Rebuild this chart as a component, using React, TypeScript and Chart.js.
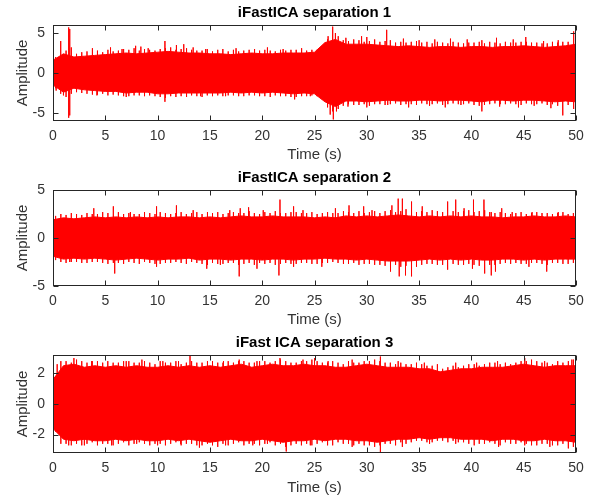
import React, { useEffect, useRef } from "react";
import { Chart, registerables } from "chart.js";

Chart.register(...registerables);

// ---------------- data ----------------
const times = [0,1,2,3,4,5,6,7,8,9,10,11,12,13,14,15,16,17,18,19,20,21,22,23,24,25,26,27,28,29,30,31,32,33,34,35,36,37,38,39,40,41,42,43,44,45,46,47,48,49,50];
const minorTimes = [0.25,0.75,1.25,1.75,2.25,2.75,3.25,3.75,4.25,4.75,5.25,5.75,6.25,6.75,7.25,7.75,8.25,8.75,9.25,9.75,10.25,10.75,11.25,11.75,12.25,12.75,13.25,13.75,14.25,14.75,15.25,15.75,16.25,16.75,17.25,17.75,18.25,18.75,19.25,19.75,20.25,20.75,21.25,21.75,22.25,22.75,23.25,23.75,24.25,24.75,25.25,25.75,26.25,26.75,27.25,27.75,28.25,28.75,29.25,29.75,30.25,30.75,31.25,31.75,32.25,32.75,33.25,33.75,34.25,34.75,35.25,35.75,36.25,36.75,37.25,37.75,38.25,38.75,39.25,39.75,40.25,40.75,41.25,41.75,42.25,42.75,43.25,43.75,44.25,44.75,45.25,45.75,46.25,46.75,47.25,47.75,48.25,48.75,49.25,49.75];
const xTicks = [0,5,10,15,20,25,30,35,40,45,50];

const titles = ["iFastICA separation 1", "iFastICA separation 2", "iFast ICA separation 3"];

// Separation 1: envelope of the dense signal (upper / lower), 1 s steps
const upper1 = [1.6,2.4,2.0,2.1,2.2,2.3,2.4,2.5,2.4,2.5,2.6,2.7,2.6,2.5,2.5,2.4,2.4,2.3,2.4,2.5,2.4,2.4,2.5,2.5,2.5,2.6,3.8,4.2,3.6,3.6,3.6,3.5,3.4,3.3,3.4,3.3,3.2,3.3,3.3,3.2,3.3,3.3,3.2,3.3,3.3,3.4,3.3,3.2,3.3,3.4,3.6];
const lower1 = [-1.5,-2.4,-1.9,-2.1,-2.2,-2.3,-2.3,-2.5,-2.4,-2.4,-2.6,-2.6,-2.5,-2.5,-2.5,-2.5,-2.5,-2.4,-2.5,-2.4,-2.5,-2.4,-2.5,-2.6,-2.5,-2.6,-3.6,-4.2,-3.5,-3.5,-3.6,-3.5,-3.4,-3.5,-3.5,-3.4,-3.4,-3.5,-3.4,-3.4,-3.5,-3.6,-3.4,-3.4,-3.5,-3.4,-3.4,-3.5,-3.6,-3.5,-3.6];
const spikeTopT1 = [0.7,1.5,1.6,3.8,5.5,6.6,7.9,8.4,9.1,10.7,11.8,12.5,13.4,14.6,16.2,17.5,19.3,20.5,22.0,23.8,26.3,26.7,27.0,27.3,28.0,29.5,30.0,31.9,33.5,35.0,36.5,38.0,39.6,41.0,42.4,44.0,45.2,46.9,48.3,49.8];
const spikeTopV1 = [4.0,5.7,5.5,3.1,3.2,3.0,3.4,3.3,3.1,4.0,3.5,3.6,3.2,3.0,3.0,3.1,3.0,3.2,3.0,3.1,4.6,5.8,5.0,4.5,4.4,4.6,4.5,5.4,4.3,4.1,4.2,4.3,4.2,4.1,4.4,4.2,4.5,4.0,4.1,5.2];
const spikeBotT1 = [0.3,1.0,1.5,1.6,4.2,7.0,9.2,10.7,12.8,14.1,16.5,18.2,20.8,23.1,24.6,26.5,26.8,27.1,28.2,30.0,32.0,34.0,36.0,37.5,39.0,41.0,42.7,44.5,46.0,47.6,48.7,49.8];
const spikeBotV1 = [-2.2,-2.8,-5.6,-5.3,-2.8,-3.0,-2.8,-3.6,-3.0,-2.9,-2.9,-2.9,-3.0,-3.3,-2.9,-5.2,-5.8,-4.8,-4.2,-4.3,-4.0,-4.3,-4.1,-4.3,-4.0,-4.8,-4.2,-4.3,-4.1,-4.4,-5.3,-4.5];
const minorTop1 = [2.0,2.9,2.8,3.2,2.4,2.6,2.7,2.5,2.8,2.6,2.9,2.7,2.8,3.0,2.9,3.1,2.8,3.0,2.9,2.8,3.0,3.1,3.2,2.9,3.0,3.1,2.9,2.8,2.8,3.0,2.7,2.9,2.8,2.7,2.9,2.7,2.8,2.9,2.7,2.8,2.9,2.8,2.7,2.9,2.8,2.9,2.9,2.8,2.8,2.9,2.9,3.2,4.2,4.8,4.6,4.1,4.0,4.2,4.1,3.9,4.0,4.2,3.9,4.0,4.1,3.8,3.9,3.8,3.9,4.0,3.8,3.9,3.7,3.9,3.8,3.7,3.9,3.8,3.7,3.8,3.8,3.9,3.7,3.9,3.8,3.7,3.9,3.8,3.8,3.9,3.9,3.8,3.8,3.7,3.7,3.9,3.8,3.9,3.9,4.0];
const minorBot1 = [-1.9,-2.6,-3.0,-2.6,-2.4,-2.5,-2.6,-2.7,-2.7,-2.6,-2.8,-2.7,-2.8,-2.9,-2.9,-2.8,-2.8,-2.9,-2.8,-2.9,-3.0,-3.1,-2.9,-3.0,-2.9,-3.0,-2.8,-2.9,-3.0,-2.8,-2.9,-2.8,-2.9,-2.8,-2.8,-2.9,-2.9,-2.8,-2.8,-2.9,-2.9,-2.8,-2.8,-2.9,-2.9,-3.0,-3.0,-2.9,-2.9,-2.8,-2.9,-3.3,-4.3,-4.8,-4.5,-4.1,-3.9,-4.0,-4.0,-3.9,-4.1,-3.9,-3.9,-4.0,-3.9,-3.8,-4.0,-3.9,-3.9,-4.0,-3.8,-3.9,-3.9,-3.8,-4.0,-3.9,-3.8,-3.9,-3.9,-3.8,-4.0,-4.1,-4.0,-3.9,-3.8,-3.9,-3.9,-3.8,-3.9,-4.0,-3.8,-3.9,-3.9,-3.8,-4.0,-3.9,-4.1,-3.9,-4.0,-4.1];

// Separation 2
const upper2 = [1.9,2.1,2.0,2.1,2.2,2.1,2.2,2.1,2.2,2.1,2.2,2.1,2.2,2.2,2.1,2.2,2.1,2.2,2.3,2.2,2.2,2.3,2.2,2.2,2.2,2.1,2.2,2.1,2.3,2.2,2.3,2.2,2.3,2.4,2.3,2.2,2.3,2.2,2.3,2.2,2.3,2.2,2.2,2.1,2.2,2.2,2.3,2.2,2.2,2.3,2.2];
const lower2 = [-1.9,-2.2,-2.1,-2.2,-2.1,-2.2,-2.3,-2.2,-2.1,-2.2,-2.3,-2.2,-2.2,-2.1,-2.3,-2.2,-2.2,-2.3,-2.2,-2.2,-2.3,-2.2,-2.2,-2.3,-2.2,-2.2,-2.1,-2.2,-2.2,-2.3,-2.2,-2.3,-2.4,-2.4,-2.4,-2.3,-2.2,-2.3,-2.2,-2.3,-2.2,-2.3,-2.3,-2.2,-2.2,-2.3,-2.2,-2.3,-2.2,-2.2,-2.2];
const spikeTopT2 = [3.9,5.8,7.4,9.9,11.8,13.4,14.8,16.9,17.9,18.7,20.1,21.7,23.0,23.9,27.0,28.3,29.7,30.5,32.4,33.0,33.4,34.3,35.3,37.7,38.5,39.3,40.2,41.2,41.9,42.9,43.9,45.8,48.3];
const spikeTopV2 = [3.1,3.3,2.7,3.3,3.4,2.9,2.7,2.9,3.1,3.2,2.9,4.0,3.3,2.9,3.1,3.4,3.3,2.9,3.4,4.1,4.1,3.8,3.3,3.8,4.0,3.1,4.0,4.0,2.7,3.1,2.7,2.7,2.7];
const spikeBotT2 = [1.6,5.9,9.9,14.7,16.0,17.8,19.5,21.6,23.0,25.7,27.8,32.3,33.1,33.7,34.3,37.7,40.1,41.3,41.9,42.3,45.5,47.2];
const spikeBotV2 = [-2.5,-3.7,-3.0,-3.2,-2.8,-4.0,-3.2,-3.9,-3.0,-3.0,-2.6,-3.5,-4.0,-3.9,-4.0,-3.3,-3.2,-3.7,-3.9,-3.5,-3.0,-3.5];
const minorTop2 = [2.3,2.5,2.4,2.6,2.5,2.4,2.6,2.5,2.5,2.7,2.6,2.5,2.7,2.5,2.6,2.5,2.5,2.7,2.6,2.5,2.7,2.6,2.5,2.6,2.7,2.5,2.6,2.7,2.5,2.6,2.6,2.7,2.5,2.6,2.7,2.6,2.6,2.8,2.6,2.5,2.7,2.6,2.8,2.6,2.6,2.7,2.7,2.6,2.6,2.7,2.5,2.6,2.7,2.6,2.6,2.8,2.7,2.6,2.8,2.6,2.7,2.8,2.6,2.8,2.9,2.7,2.8,3.0,2.9,2.7,2.8,2.7,2.9,2.8,2.7,2.9,2.8,2.7,2.8,2.9,2.7,2.8,2.9,2.7,2.6,2.7,2.6,2.5,2.6,2.7,2.5,2.6,2.7,2.6,2.6,2.5,2.6,2.7,2.5,2.6];
const minorBot2 = [-2.3,-2.5,-2.6,-2.5,-2.5,-2.6,-2.6,-2.5,-2.5,-2.6,-2.7,-2.6,-2.6,-2.7,-2.5,-2.6,-2.7,-2.5,-2.6,-2.7,-2.7,-2.6,-2.6,-2.5,-2.6,-2.7,-2.5,-2.6,-2.7,-2.8,-2.6,-2.7,-2.7,-2.6,-2.6,-2.8,-2.7,-2.6,-2.8,-2.6,-2.7,-2.6,-2.8,-2.7,-2.6,-2.7,-2.7,-2.6,-2.6,-2.7,-2.7,-2.6,-2.6,-2.5,-2.6,-2.7,-2.7,-2.6,-2.8,-2.7,-2.7,-2.8,-2.8,-2.9,-2.9,-2.8,-3.0,-2.9,-2.9,-3.0,-2.8,-2.7,-2.7,-2.8,-2.8,-2.7,-2.7,-2.8,-2.8,-2.7,-2.8,-2.9,-2.9,-2.8,-2.8,-2.7,-2.6,-2.7,-2.6,-2.7,-2.7,-2.6,-2.6,-2.7,-2.8,-2.6,-2.6,-2.7,-2.7,-2.6];

// Separation 3
const upper3 = [1.6,2.5,2.6,2.4,2.5,2.4,2.5,2.4,2.5,2.4,2.4,2.5,2.4,2.5,2.4,2.5,2.4,2.5,2.6,2.4,2.5,2.6,2.5,2.5,2.6,2.5,2.5,2.4,2.4,2.5,2.6,2.5,2.4,2.4,2.4,2.3,2.3,2.1,2.2,2.3,2.3,2.4,2.4,2.4,2.5,2.6,2.5,2.4,2.5,2.5,2.5];
const lower3 = [-1.6,-2.3,-2.4,-2.3,-2.4,-2.4,-2.3,-2.4,-2.3,-2.4,-2.4,-2.3,-2.4,-2.3,-2.4,-2.5,-2.4,-2.3,-2.4,-2.4,-2.3,-2.4,-2.5,-2.4,-2.4,-2.3,-2.4,-2.3,-2.3,-2.4,-2.4,-2.5,-2.4,-2.3,-2.3,-2.2,-2.3,-2.2,-2.2,-2.3,-2.3,-2.3,-2.4,-2.3,-2.3,-2.4,-2.4,-2.3,-2.4,-2.4,-2.5];
const spikeTopT3 = [0.4,2.0,3.7,5.2,7.0,8.5,10.5,12.0,13.1,14.8,16.3,17.8,19.5,21.7,23.9,25.0,26.3,28.6,31.3,33.0,35.5,38.5,40.5,42.5,45.1,47.0,49.6];
const spikeTopV3 = [2.6,3.0,2.8,2.8,2.8,2.9,2.8,2.8,3.2,2.8,2.8,2.9,2.8,3.0,2.9,3.0,2.8,2.9,3.1,2.8,2.7,2.7,2.7,2.8,3.0,2.8,2.9];
const spikeBotT3 = [1.5,3.0,5.6,8.0,10.0,12.2,14.0,16.5,19.1,20.5,22.3,24.6,26.7,28.6,31.3,33.4,36.0,38.5,40.3,42.6,45.1,47.5,49.3];
const spikeBotV3 = [-2.7,-2.7,-2.7,-2.6,-2.7,-2.6,-2.85,-2.7,-2.7,-2.6,-3.1,-2.7,-2.7,-2.8,-3.2,-2.8,-2.6,-2.6,-2.7,-2.8,-2.7,-2.8,-2.9];
const minorTop3 = [1.8,2.8,2.8,2.7,2.9,2.8,2.7,2.8,2.8,2.7,2.8,2.7,2.7,2.8,2.8,2.7,2.7,2.8,2.7,2.6,2.8,2.7,2.7,2.8,2.6,2.7,2.8,2.7,2.7,2.6,2.8,2.7,2.7,2.8,2.7,2.8,2.8,2.7,2.7,2.8,2.8,2.7,2.8,2.9,2.8,2.7,2.7,2.8,2.8,2.9,2.8,2.7,2.7,2.8,2.7,2.6,2.8,2.7,2.7,2.8,2.8,2.9,2.8,2.7,2.7,2.6,2.7,2.6,2.6,2.7,2.6,2.5,2.5,2.6,2.3,2.4,2.5,2.4,2.5,2.6,2.6,2.5,2.6,2.7,2.7,2.6,2.7,2.6,2.7,2.8,2.8,2.9,2.8,2.7,2.7,2.6,2.8,2.7,2.8,2.9];
const minorBot3 = [-1.8,-2.6,-2.6,-2.7,-2.6,-2.7,-2.6,-2.5,-2.7,-2.6,-2.6,-2.7,-2.6,-2.5,-2.7,-2.6,-2.5,-2.6,-2.7,-2.6,-2.6,-2.7,-2.6,-2.5,-2.7,-2.6,-2.6,-2.7,-2.7,-2.6,-2.7,-2.8,-2.6,-2.7,-2.6,-2.5,-2.7,-2.6,-2.6,-2.7,-2.6,-2.5,-2.7,-2.6,-2.8,-2.7,-2.6,-2.7,-2.6,-2.7,-2.6,-2.5,-2.7,-2.6,-2.5,-2.6,-2.6,-2.7,-2.6,-2.7,-2.7,-2.8,-2.7,-2.6,-2.6,-2.7,-2.5,-2.6,-2.5,-2.4,-2.4,-2.5,-2.5,-2.4,-2.4,-2.5,-2.4,-2.5,-2.5,-2.6,-2.5,-2.6,-2.6,-2.5,-2.6,-2.7,-2.5,-2.6,-2.6,-2.5,-2.6,-2.7,-2.7,-2.6,-2.6,-2.7,-2.7,-2.6,-2.7,-2.8];

const yRange1 = [-6, 6];
const yRange2 = [-5, 5];
const yRange3 = [-3.2, 3.2];
const yTicks1 = [-5, 0, 5];
const yTicks2 = [-5, 0, 5];
const yTicks3 = [-2, 0, 2];

// ---------------- styling ----------------
const RED = "#ff0000";
const TEXT = "#333333";
const AXIS = "#262626";
const FONT = '"Liberation Sans", Arial, Helvetica, sans-serif';

function spikePoints(
  tt: number[], tv: number[], bt: number[], bv: number[],
  mt: number[], mTop: number[], mBot: number[]
) {
  const all = tt.map((t, i) => ({ t, v: tv[i] }))
    .concat(bt.map((t, i) => ({ t, v: bv[i] })))
    .concat(mt.map((t, i) => ({ t, v: mTop[i] })))
    .concat(mt.map((t, i) => ({ t: t, v: mBot[i] })));
  all.sort((a, b) => a.t - b.t);
  const pts: { x: number; y: number }[] = [];
  for (const p of all) {
    pts.push({ x: p.t, y: 0 }, { x: p.t, y: p.v }, { x: p.t, y: 0 });
  }
  return pts;
}

const framePlugin = {
  id: "frame",
  afterDraw(chart: any, _args: any, opts: any) {
    const { ctx, chartArea: a, scales } = chart;
    ctx.save();
    ctx.strokeStyle = AXIS;
    ctx.lineWidth = 1;
    const L = Math.round(a.left) + 0.5;
    const R = Math.round(a.right) - 0.5;
    const T = Math.round(a.top) + 0.5;
    const B = Math.round(a.bottom) - 0.5;
    ctx.strokeRect(L, T, R - L, B - T);
    ctx.beginPath();
    const tl = 5;
    for (const v of opts.xTicks as number[]) {
      const px = Math.round(scales.x.getPixelForValue(v)) + 0.5;
      ctx.moveTo(px, B);
      ctx.lineTo(px, B - tl);
      ctx.moveTo(px, T);
      ctx.lineTo(px, T + tl);
    }
    for (const v of opts.yTicks as number[]) {
      const py = Math.round(scales.y.getPixelForValue(v)) + 0.5;
      ctx.moveTo(L, py);
      ctx.lineTo(L + tl, py);
      ctx.moveTo(R, py);
      ctx.lineTo(R - tl, py);
    }
    ctx.stroke();
    ctx.fillStyle = "#000";
    ctx.font = `bold 15px ${FONT}`;
    ctx.textAlign = "center";
    ctx.textBaseline = "middle";
    ctx.fillText(opts.text, (a.left + a.right) / 2, 13);
    ctx.restore();
  },
};

type PlotProps = {
  title: string;
  upper: number[];
  lower: number[];
  spikes: { x: number; y: number }[];
  yRange: number[];
  yTicks: number[];
  top: number;
  height: number;
  xh: number;
  titlePad: number;
};

function SubPlot(p: PlotProps) {
  const ref = useRef<HTMLCanvasElement>(null);
  useEffect(() => {
    const chart = new Chart(ref.current as HTMLCanvasElement, {
      type: "line",
      data: {
        datasets: [
          {
            data: times.map((t, i) => ({ x: t, y: p.upper[i] })),
            borderColor: RED,
            backgroundColor: RED,
            borderWidth: 1,
            pointRadius: 0,
            fill: "+1",
          },
          {
            data: times.map((t, i) => ({ x: t, y: p.lower[i] })),
            borderColor: RED,
            backgroundColor: RED,
            borderWidth: 1,
            pointRadius: 0,
            fill: false,
          },
          {
            data: p.spikes,
            borderColor: RED,
            borderWidth: 1,
            pointRadius: 0,
            fill: false,
          },
        ],
      } as any,
      options: {
        responsive: false,
        animation: false,
        devicePixelRatio: 1,
        layout: { padding: { top: 25, right: 20, left: 0, bottom: 0 } },
        elements: { line: { tension: 0 }, point: { radius: 0 } },
        plugins: {
          legend: { display: false },
          tooltip: { enabled: false },
          frame: { text: p.title, xTicks, yTicks: p.yTicks },
        } as any,
        scales: {
          x: {
            type: "linear",
            min: 0,
            max: 50,
            afterBuildTicks: (s: any) => {
              s.ticks = xTicks.map((v) => ({ value: v }));
            },
            afterFit: (s: any) => {
              s.height = p.xh;
            },
            grid: { display: false, drawTicks: false },
            border: { display: false },
            ticks: {
              padding: 7,
              color: TEXT,
              font: { size: 14, family: FONT },
              maxRotation: 0,
              autoSkip: false,
              callback: (v: any) => String(v),
            },
            title: {
              display: true,
              text: "Time (s)",
              color: TEXT,
              font: { size: 15, family: FONT },
              padding: { top: 0, bottom: p.titlePad },
            },
          },
          y: {
            type: "linear",
            min: p.yRange[0],
            max: p.yRange[1],
            afterBuildTicks: (s: any) => {
              s.ticks = p.yTicks.map((v) => ({ value: v }));
            },
            afterFit: (s: any) => {
              s.width = 53;
            },
            grid: { display: false, drawTicks: false },
            border: { display: false },
            ticks: {
              padding: 8,
              color: TEXT,
              font: { size: 14, family: FONT },
              callback: (v: any) => String(v),
            },
            title: {
              display: true,
              text: "Amplitude",
              color: TEXT,
              font: { size: 15, family: FONT },
              padding: { top: 14, bottom: 0 },
            },
          },
        },
      } as any,
      plugins: [framePlugin as any],
    });
    return () => chart.destroy();
  }, []);
  return (
    <canvas
      ref={ref}
      width={596}
      height={p.height}
      style={{ position: "absolute", left: 0, top: p.top, width: 596, height: p.height }}
    />
  );
}

export default function App() {
  return (
    <div style={{ position: "absolute", left: 0, top: 0, width: 596, height: 500, background: "#fff" }}>
      <SubPlot
        title={titles[0]}
        upper={upper1}
        lower={lower1}
        spikes={spikePoints(spikeTopT1, spikeTopV1, spikeBotT1, spikeBotV1, minorTimes, minorTop1, minorBot1)}
        yRange={yRange1}
        yTicks={yTicks1}
        top={0}
        height={165}
        xh={44}
        titlePad={1}
      />
      <SubPlot
        title={titles[1]}
        upper={upper2}
        lower={lower2}
        spikes={spikePoints(spikeTopT2, spikeTopV2, spikeBotT2, spikeBotV2, minorTimes, minorTop2, minorBot2)}
        yRange={yRange2}
        yTicks={yTicks2}
        top={165}
        height={165}
        xh={44}
        titlePad={1}
      />
      <SubPlot
        title={titles[2]}
        upper={upper3}
        lower={lower3}
        spikes={spikePoints(spikeTopT3, spikeTopV3, spikeBotT3, spikeBotV3, minorTimes, minorTop3, minorBot3)}
        yRange={yRange3}
        yTicks={yTicks3}
        top={330}
        height={170}
        xh={47}
        titlePad={3}
      />
    </div>
  );
}
